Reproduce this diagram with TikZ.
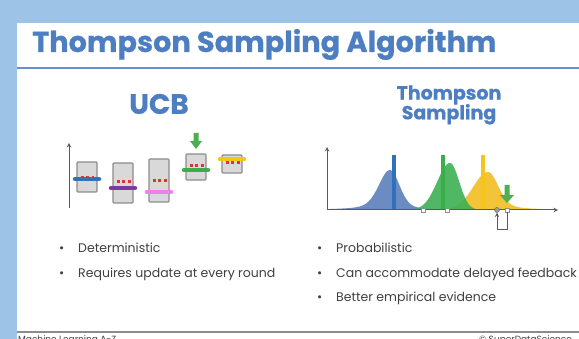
\documentclass[tikz,border=0pt]{standalone}
\usepackage{fontspec}
\setmainfont{Poppins}
\usepackage{xcolor}
\definecolor{bgblue}{HTML}{9DC3E6}
\definecolor{titleblue}{HTML}{4C7EC1}
\definecolor{bodygrey}{HTML}{404040}
\definecolor{axisgrey}{HTML}{5A5A5A}
\definecolor{boxfill}{HTML}{D9D9D9}
\definecolor{boxedge}{HTML}{8C8C8C}
\definecolor{dotred}{HTML}{E0342E}
\definecolor{ucbblue}{HTML}{2E72BE}
\definecolor{ucbpurple}{HTML}{7A3A9E}
\definecolor{ucbpink}{HTML}{F07FEA}
\definecolor{ucbgreen}{HTML}{3AAE4A}
\definecolor{ucbyellow}{HTML}{F5C518}
\definecolor{distblue}{HTML}{5B80BC}
\definecolor{distgreen}{HTML}{3DB054}
\definecolor{distyellow}{HTML}{F2BE22}
\definecolor{arrowgreen}{HTML}{4CAF50}
\newcommand{\headfont}[1]{\bfseries\addfontfeature{FakeBold=0.6}\fontsize{#1}{#1}\selectfont}

\begin{document}
\begin{tikzpicture}[x=1pt,y=-1pt,
    box/.style={draw=boxedge,fill=boxfill,line width=1.1pt,rounded corners=1pt},
    bar/.style={line width=4.5pt,line cap=round},
    reddots/.style={draw=dotred,line width=3pt,dash pattern=on 3pt off 2.5pt},
    axis/.style={->,>=stealth,draw=axisgrey,line width=1pt},
    itemtext/.style={anchor=base west,inner sep=0pt,text=bodygrey,font=\fontsize{12.5}{14}\selectfont},
    axismark/.style={draw=boxedge,fill=white,inner sep=0pt,minimum size=4pt}]

    % Slide background and panel
    \fill[bgblue] (0,0) rectangle (579,339);
    \fill[white] (17,23) rectangle (579,339);
    \useasboundingbox (0,0) rectangle (579,339);

    % Title and rules
    \node[anchor=base west,inner sep=0pt,text=titleblue,font=\headfont{28.8}] (title) at (32,52) {Thompson Sampling Algorithm};
    \draw[titleblue!85,line width=2pt] (17,68) -- (579,68);
    \draw[boxedge,line width=1.2pt] (17,332) -- (579,332);

    % Column headings
    \node[text=titleblue,font=\headfont{28}] (ucb) at (159,104) {UCB};
    \node[text=titleblue,align=center,font=\headfont{19}] (ts) at (449,105) {Thompson\\[-1.5pt]Sampling};

    % UCB confidence bounds
    \draw[axis] (69,208) -- (69,143);
    \draw[box] (77,162) rectangle (97,192);
    \draw[reddots] (80.5,178) -- (94,178);
    \draw[bar,ucbblue] (75,179) -- (99,179);
    \draw[box] (113,163) rectangle (133,203);
    \draw[reddots] (116.5,182) -- (130.5,182);
    \draw[bar,ucbpurple] (111,188) -- (135,188);
    \draw[box] (149,159) rectangle (169,202);
    \draw[reddots] (152.5,181) -- (166.5,181);
    \draw[bar,ucbpink] (147,192) -- (171,192);
    \draw[box] (186,154) rectangle (206,180);
    \draw[reddots] (189.5,166) -- (203.5,166);
    \draw[bar,ucbgreen] (184,170) -- (208,170);
    \draw[box] (222,155) rectangle (242,173);
    \draw[reddots] (225.5,163) -- (239.5,163);
    \draw[bar,ucbyellow] (220,159) -- (244,159);
    \fill[arrowgreen] (193.5,133) -- (198.5,133) -- (198.5,141) -- (202,141) -- (196,149) -- (190,141) -- (193.5,141) -- cycle;

    % Thompson sampling distributions
    \fill[distblue,opacity=0.9] plot[domain=327:390,samples=60,smooth] (\x,{210-30*exp(-((\x-390)/15)^2)-10/(1+((\x-390)/20)^2)})
        -- plot[domain=390:440,samples=40,smooth] (\x,{210-30*exp(-((\x-390)/13)^2)-10/(1+((\x-390)/15)^2)}) -- cycle;
    \fill[distyellow,opacity=0.9] plot[domain=440:488,samples=50,smooth] (\x,{210-38*exp(-((\x-488)/21)^2)})
        -- plot[domain=488:556,samples=60,smooth] (\x,{210-28*exp(-((\x-488)/14)^2)-10/(1+((\x-488)/18)^2)}) -- cycle;
    \fill[distgreen,opacity=0.9] plot[domain=410:450,samples=50,smooth] (\x,{210-47*exp(-((\x-450)/18)^2)})
        -- plot[domain=450:478,samples=30,smooth] (\x,{210-47*exp(-((\x-450)/13)^2)}) -- cycle;
    \draw[ucbblue,line width=4.5pt] (394,155) -- (394,210);
    \draw[ucbgreen,line width=4.5pt] (443,155) -- (443,210);
    \draw[ucbyellow,line width=4.5pt] (483,155) -- (483,210);

    % Axes and sampled values
    \draw[axis] (327,210) -- (327,147);
    \draw[axis] (327,210) -- (558,210);
    \node[axismark] (s1) at (423,210) {};
    \node[axismark] (s2) at (447,210) {};
    \node[axismark] (s3) at (507,210) {};
    \node[circle,draw=axisgrey,fill=axisgrey!60,inner sep=0pt,minimum size=5pt] (pick) at (497,210) {};
    \draw[->,>=stealth,axisgrey,line width=0.9pt] (s3.south) -- ++(0,17) -| (pick.south);
    \fill[arrowgreen] (504.5,185) -- (509.5,185) -- (509.5,195) -- (514,195) -- (507,203) -- (500,195) -- (504.5,195) -- cycle;

    % Bullet lists
    \node[itemtext] (u1dot) at (59,253) {\textbullet};
    \node[itemtext] (u1) at (78,253) {Deterministic};
    \node[itemtext] (u2dot) at (59,278) {\textbullet};
    \node[itemtext] (u2) at (78,278) {Requires update at every round};
    \node[itemtext] (t1dot) at (317,253) {\textbullet};
    \node[itemtext] (t1) at (336,253) {Probabilistic};
    \node[itemtext] (t2dot) at (317,278) {\textbullet};
    \node[itemtext] (t2) at (336,278) {Can accommodate delayed feedback};
    \node[itemtext] (t3dot) at (317,302) {\textbullet};
    \node[itemtext] (t3) at (336,302) {Better empirical evidence};

    % Footer, cut off by the page edge
    \node[anchor=north west,inner sep=0pt,text=bodygrey,font=\fontsize{9}{9}\selectfont] (foot) at (18,335.5) {Machine Learning A-Z};
    \node[anchor=north west,inner sep=0pt,text=bodygrey,font=\fontsize{9}{9}\selectfont] (copy) at (479,335.5) {© SuperDataScience};
\end{tikzpicture}
\end{document}
